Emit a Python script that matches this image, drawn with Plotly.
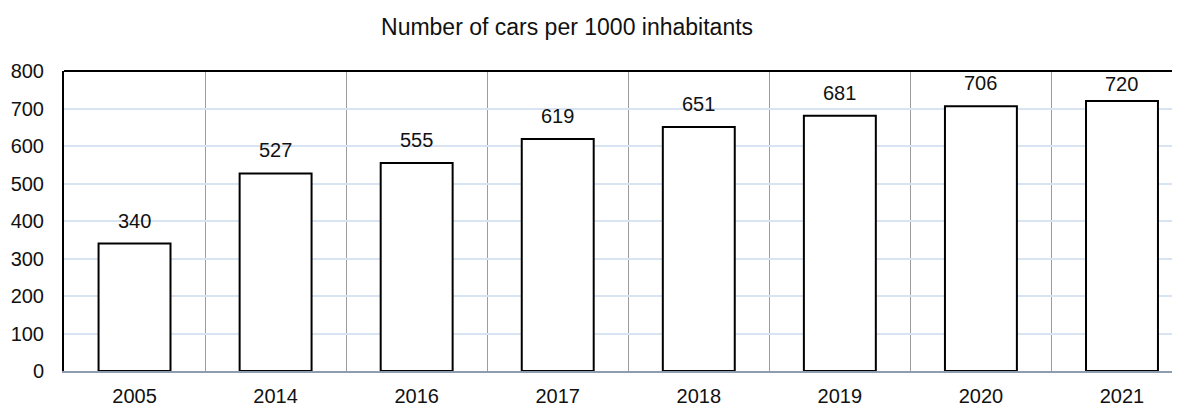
import plotly.graph_objects as go

years = ["2005", "2014", "2016", "2017", "2018", "2019", "2020", "2021"]
cars = [340, 527, 555, 619, 651, 681, 706, 720]
y_ticks = [0, 100, 200, 300, 400, 500, 600, 700, 800]

FONT = "Liberation Sans, Arial, sans-serif"

fig = go.Figure(go.Bar(
    x=years,
    y=cars,
    width=0.51,
    marker=dict(color="white", line=dict(color="black", width=2)),
    hoverinfo="skip",
))

# value labels above the bars (x given as category index);
# the one closest to the top border is nudged down a little
for i, v in enumerate(cars):
    fig.add_annotation(
        x=i, y=v, text=str(v), showarrow=False,
        xref="x", yref="y",
        yanchor="bottom", yshift=10 if v < 715 else 4,
        font=dict(size=20, color="#111111", family=FONT),
    )

# top border of the plot area
fig.add_shape(type="line", xref="paper", yref="paper",
              x0=0, x1=1, y0=1, y1=1,
              line=dict(color="black", width=2))

# page body has an 8px margin, so the figure is sized to fit inside it
fig.update_layout(
    width=1172, height=397,
    margin=dict(l=56, r=3, t=63, b=34),
    paper_bgcolor="white",
    plot_bgcolor="white",
    font=dict(family=FONT, color="#111111", size=20),
    title=dict(text="Number of cars per 1000 inhabitants",
               x=0.477, xanchor="center", y=0.952, yanchor="middle",
               font=dict(size=23, color="#111111", family=FONT)),
    showlegend=False,
    xaxis=dict(
        type="category",
        range=[-0.5, 7.39],
        tickson="boundaries",
        showgrid=True, gridcolor="#9c9c9c", gridwidth=1,
        ticks="", showline=True, linecolor="#8e9bb0", linewidth=2,
        ticklabelstandoff=6,
        tickfont=dict(size=20),
        automargin=False,
        fixedrange=True,
    ),
    yaxis=dict(
        range=[0, 800],
        tickvals=y_ticks,
        showgrid=True, gridcolor="#d8e4f2", gridwidth=2,
        zeroline=False,
        ticks="", showline=True, linecolor="black", linewidth=2,
        ticklabelstandoff=14,
        tickfont=dict(size=20),
        automargin=False,
        fixedrange=True,
    ),
)

fig.write_html("out.html")
